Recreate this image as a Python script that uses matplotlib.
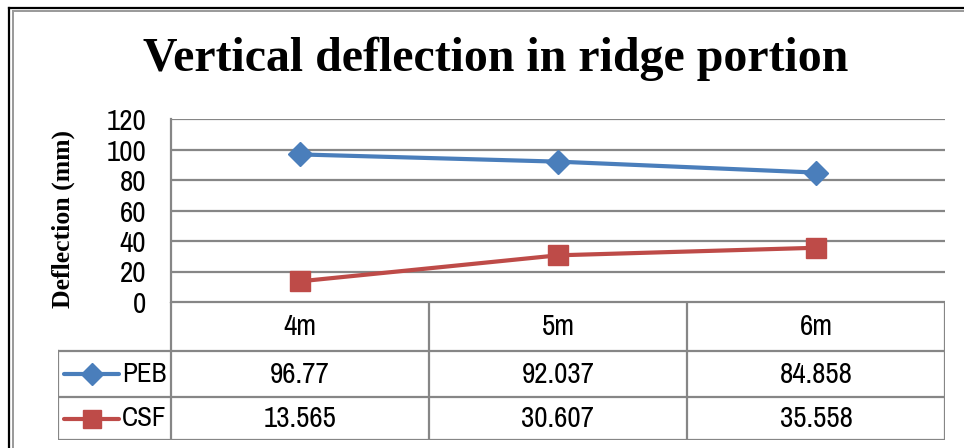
import matplotlib.pyplot as plt
import numpy as np

categories = ['4m', '5m', '6m']
peb = [96.77, 92.037, 84.858]
csf = [13.565, 30.607, 35.558]
peb_txt = ['96.77', '92.037', '84.858']
csf_txt = ['13.565', '30.607', '35.558']
yticks = [0, 20, 40, 60, 80, 100, 120]

blue = '#4A7EBB'
red = '#BE4B48'
grid = '#868686'
narrow = ['Archivo Narrow', 'Roboto Condensed', 'DejaVu Sans']
fs = 21
W, H = 964, 448

fig = plt.figure(figsize=(W / 100, H / 100), dpi=100)

# figure frame, only top and left edges visible
fig.add_artist(plt.Line2D([8.5 / W, 8.5 / W], [0, 1 - 8.5 / H], color='black', lw=1.6))
fig.add_artist(plt.Line2D([8.5 / W, 1], [1 - 8.5 / H, 1 - 8.5 / H], color='black', lw=1.6))
fig.add_artist(plt.Line2D([12.5 / W, 12.5 / W], [0, 1 - 11.5 / H], color='#999999', lw=1.4))
fig.add_artist(plt.Line2D([12.5 / W, 1], [1 - 11.5 / H, 1 - 11.5 / H], color='#999999', lw=1.4))

# chart area
ax = fig.add_axes([171 / W, (H - 302) / H, (945 - 171) / W, 183 / H])
x = np.arange(len(categories))
ax.plot(x, peb, color=blue, lw=3, marker='D', ms=12, zorder=3)
ax.plot(x, csf, color=red, lw=3, marker='s', ms=14, zorder=3)
ax.set_xlim(-0.5, 2.5)
ax.set_ylim(0, 120)
ax.set_yticks(yticks)
ax.set_xticks([])
ax.grid(axis='y', color=grid, lw=1.6)
ax.set_axisbelow(True)
for s in ['top', 'right', 'bottom']:
    ax.spines[s].set_visible(False)
ax.spines['left'].set_color(grid)
ax.spines['left'].set_linewidth(1.6)
ax.tick_params(axis='y', length=0, pad=18, labelsize=fs)
for lab in ax.get_yticklabels():
    lab.set_family(narrow)

fig.text(496 / W, 1 - 59 / H, 'Vertical deflection in ridge portion',
         family='Liberation Serif', weight='bold', fontsize=34.5,
         ha='center', va='center')
fig.text(63 / W, 1 - 219 / H, 'Deflection (mm)', family='Liberation Serif',
         weight='bold', fontsize=18.5, rotation=90, ha='center', va='center')

# data table under the chart
left_edge = -0.5 - 113 / 258
tb = fig.add_axes([58 / W, (H - 440) / H, (945 - 58) / W, 138 / H])
tb.set_xlim(left_edge, 2.5)
tb.set_ylim(138, 0)
tb.axis('off')
tcol = grid
tlw = 1.6
rows = [0, 49, 95, 138]
tb.plot([-0.5, 2.5], [0, 0], color=tcol, lw=tlw)
for r in rows[1:]:
    tb.plot([left_edge, 2.5], [r, r], color=tcol, lw=tlw)
for c in [-0.5, 0.5, 1.5, 2.5]:
    tb.plot([c, c], [0, 138], color=tcol, lw=tlw)
tb.plot([left_edge, left_edge], [49, 138], color=tcol, lw=tlw)

for i, cat in enumerate(categories):
    tb.text(i, 24.5, cat, family=narrow, fontsize=fs, ha='center', va='center')
    tb.text(i, 72, peb_txt[i], family=narrow, fontsize=fs, ha='center', va='center')
    tb.text(i, 116.5, csf_txt[i], family=narrow, fontsize=fs, ha='center', va='center')

# legend keys in first column
lx0 = left_edge + 6 / 258
lx1 = left_edge + 61 / 258
tb.plot([lx0, lx1], [72, 72], color=blue, lw=3, solid_capstyle='round')
tb.plot([(lx0 + lx1) / 2], [72], color=blue, marker='D', ms=11)
tb.plot([lx0, lx1], [116.5, 116.5], color=red, lw=3, solid_capstyle='round')
tb.plot([(lx0 + lx1) / 2], [116.5], color=red, marker='s', ms=13)
tb.text(left_edge + 64 / 258, 72, 'PEB', family=narrow, fontsize=19.5, ha='left', va='center')
tb.text(left_edge + 64 / 258, 116.5, 'CSF', family=narrow, fontsize=19.5, ha='left', va='center')

fig.savefig('out.png', dpi=100)
